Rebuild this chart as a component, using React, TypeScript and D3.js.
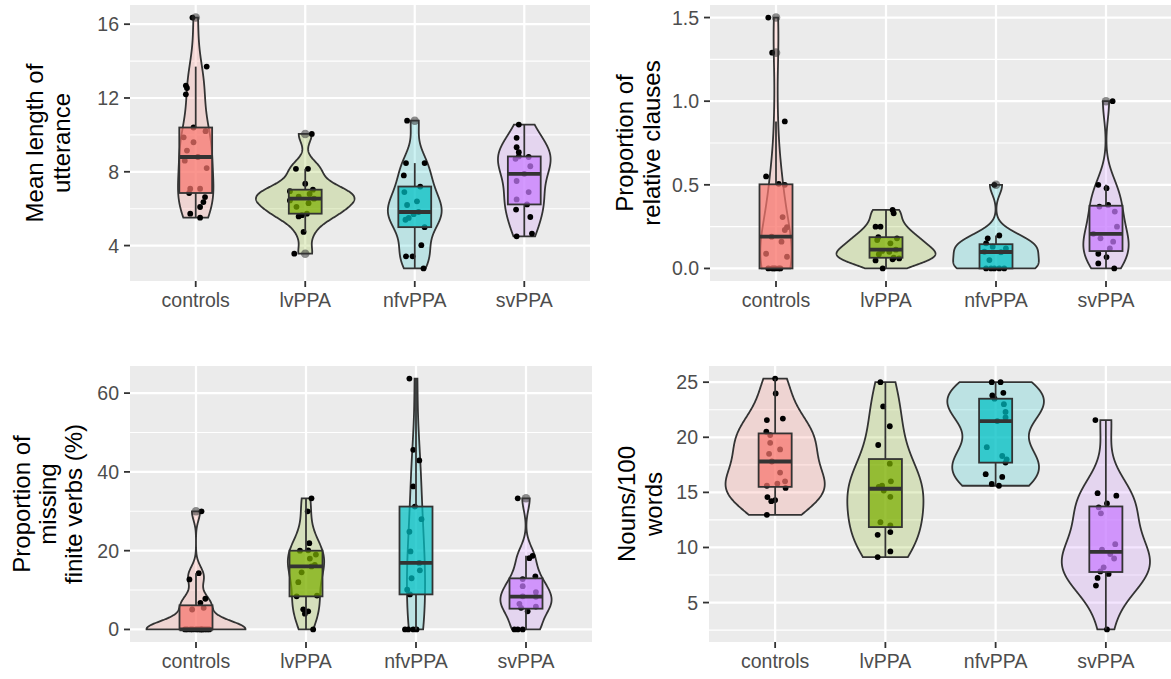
import React from 'react';
import * as d3 from 'd3';

const groups = ['controls', 'lvPPA', 'nfvPPA', 'svPPA'];
const fills = ['#F8766D', '#7CAE00', '#00BFC4', '#C77CFF'];

// each point: [value, horizontal jitter as a fraction of the category step]
const mluControls: [number, number][] = [
  [5.51, 0.04], [5.73, -0.05], [6.09, 0.04], [6.36, 0.07], [6.63, 0.085], [6.85, -0.06], [7.08, -0.05],
  [7.08, 0.04], [8.2, 0.1], [8.6, -0.1], [8.8, 0.02], [9.15, -0.08], [9.6, -0.02], [9.87, -0.11],
  [10.2, 0.09], [10.4, -0.02], [12.2, -0.09], [12.54, -0.08], [12.67, -0.09], [13.7, 0.1], [16.36, -0.03],
];
const mluLv: [number, number][] = [
  [3.56, -0.1], [4.74, -0.015], [5.58, -0.06], [5.65, -0.03], [5.73, 0.015], [6.1, -0.08], [6.3, 0.03],
  [6.45, -0.14], [6.54, 0.08], [6.65, -0.06], [6.8, 0.04], [6.95, -0.14], [7.03, 0.07], [7.35, 0.0],
  [8.16, -0.085], [8.16, 0.025], [10.05, 0.06],
];
const mluNfv: [number, number][] = [
  [2.76, 0.08], [3.42, -0.08], [3.42, -0.02], [4.02, 0.06], [5.0, 0.09], [5.4, -0.085], [5.5, -0.055],
  [5.7, -0.01], [5.82, 0.035], [6.2, -0.07], [6.4, 0.02], [6.9, -0.095], [7.2, 0.05], [7.8, -0.1],
  [8.47, -0.08], [8.47, 0.09], [10.77, -0.07],
];
const mluSv: [number, number][] = [
  [4.5, -0.07], [4.65, 0.07], [5.55, 0.055], [5.95, -0.075], [6.23, 0.025], [6.5, -0.07], [6.9, 0.04],
  [7.5, -0.07], [7.89, 0.0], [8.3, 0.055], [8.7, -0.08], [8.8, 0.04], [8.83, -0.05], [9.06, -0.05],
  [9.33, -0.07], [9.84, -0.07], [10.56, -0.05],
];

const relControls: [number, number][] = [
  [0, -0.07], [0, -0.035], [0, -0.005], [0, 0.025], [0, 0.04], [0, -0.02], [0.07, 0.1], [0.088, -0.09],
  [0.16, 0.05], [0.19, -0.04], [0.23, 0.08], [0.247, 0.1], [0.307, 0.06], [0.5, 0.08], [0.506, 0.025],
  [0.55, -0.09], [0.879, 0.08], [1.29, -0.035], [1.5, -0.07],
];
const relLv: [number, number][] = [
  [0, -0.03], [0.048, -0.095], [0.055, 0.06], [0.06, 0.12], [0.064, 0.07], [0.085, -0.065], [0.1, 0.03],
  [0.105, -0.035], [0.112, 0.09], [0.15, 0.04], [0.17, -0.08], [0.18, 0.1], [0.187, -0.07], [0.25, -0.095],
  [0.25, -0.05], [0.33, 0.07], [0.35, 0.06],
];
const relNfv: [number, number][] = [
  [0, -0.09], [0, -0.045], [0, -0.015], [0, 0.03], [0, 0.075], [0.05, -0.06], [0.097, 0.045], [0.1, -0.105],
  [0.12, 0.09], [0.13, -0.03], [0.15, -0.09], [0.18, -0.075], [0.197, 0.03], [0.5, -0.015],
];
const relSv: [number, number][] = [
  [0, 0.075], [0.03, -0.07], [0.068, 0.005], [0.088, -0.07], [0.12, 0.035], [0.16, 0.065], [0.18, -0.05],
  [0.207, -0.115], [0.25, 0.1], [0.34, 0.08], [0.37, -0.06], [0.38, 0.02], [0.48, 0.005], [0.5, -0.07],
  [1.0, 0.06],
];

const verbControls: [number, number][] = [
  [0, -0.05], [0, -0.03], [0, 0.0], [0, 0.02], [0, 0.05], [0, 0.08], [0, 0.1], [0, 0.12], [0, -0.08],
  [0, -0.1], [0, 0.04], [0, 0.06], [5.06, -0.035], [5.5, 0.07], [6.75, 0.04], [7.8, 0.085], [12.7, -0.06],
  [14.3, 0.025], [30, 0.05],
];
const verbLv: [number, number][] = [
  [0, 0.065], [4.0, -0.01], [4.6, 0.02], [5.1, -0.025], [8.4, -0.085], [8.6, 0.1], [12, -0.07],
  [14.5, -0.04], [16, 0.05], [16.4, 0.08], [18, 0.035], [19, 0.09], [20, -0.055], [20.1, 0.02],
  [21.9, 0.03], [30, 0.015], [33.3, 0.05],
];
const verbNfv: [number, number][] = [
  [0, -0.1], [0, -0.07], [0, -0.025], [0, 0.005], [8.9, -0.055], [10.1, -0.08], [13, -0.04], [15, 0.035],
  [16.9, 0.03], [19.8, -0.05], [24.8, -0.06], [28, 0.05], [31.2, -0.01], [36.3, -0.025], [42.9, 0.03],
  [45.6, -0.025], [63.7, -0.06],
];
const verbSv: [number, number][] = [
  [0, -0.105], [0, -0.075], [0, -0.03], [4.6, 0.015], [5.5, -0.045], [5.8, 0.09], [6.5, -0.06], [8.3, 0.09],
  [8.4, -0.03], [9.5, 0.09], [11, -0.03], [12.8, -0.03], [13.5, 0.085], [18.1, 0.03], [18.7, 0.06],
  [33.3, -0.075],
];

const nounControls: [number, number][] = [
  [12.96, -0.075], [14.2, -0.035], [14.3, 0.0], [14.57, -0.07], [15.4, 0.095], [15.6, -0.075], [15.8, 0.02],
  [16.0, 0.09], [16.8, 0.045], [17.8, -0.03], [18.5, -0.055], [18.9, 0.045], [19.5, -0.045], [20.2, -0.045],
  [20.5, -0.08], [21.56, -0.075], [21.7, 0.07], [23.98, 0.005], [25.33, 0.0],
];
const nounLv: [number, number][] = [
  [9.13, -0.07], [9.64, 0.045], [11.15, -0.07], [11.4, 0.045], [12.0, 0.045], [12.3, -0.045], [14.6, 0.045],
  [15.16, -0.015], [15.5, -0.06], [15.6, -0.03], [16.0, 0.05], [17.6, 0.04], [19.3, -0.065], [21.0, 0.04],
  [22.8, -0.02], [25.0, -0.045],
];
const nounNfv: [number, number][] = [
  [15.6, 0.03], [15.77, -0.035], [16.4, 0.06], [16.65, -0.09], [17.7, 0.09], [18.0, 0.1], [18.3, 0.06],
  [19.1, -0.08], [21.47, 0.015], [21.8, 0.09], [22.3, 0.09], [23.0, 0.075], [23.5, -0.01], [23.8, -0.03],
  [24.03, 0.07], [25, -0.035], [25, 0.045],
];
const nounSv: [number, number][] = [
  [2.56, 0.01], [6.54, -0.09], [7.24, -0.075], [7.6, 0.025], [7.83, -0.05], [8.2, -0.02], [9.0, 0.075],
  [9.4, 0.04], [9.8, -0.035], [10.3, 0.085], [13.1, -0.045], [13.63, -0.065], [14.0, 0.01], [14.7, 0.095],
  [14.93, -0.075], [21.56, -0.095],
];

const mluTicks = [4, 8, 12, 16];
const relTicks = [0, 0.5, 1, 1.5];
const verbTicks = [0, 20, 40, 60];
const nounTicks = [5, 10, 15, 20, 25];

const FONT = '"Liberation Sans", Arial, sans-serif';
const DARK = '#333333';

function bwNrd0(x: number[]) {
  const s = d3.deviation(x) || 0;
  const iqr = (d3.quantile(x, 0.75) as number) - (d3.quantile(x, 0.25) as number);
  let lo = Math.min(s, iqr / 1.34);
  if (!lo) lo = s || Math.abs(x[0]) || 1;
  return 0.9 * lo * Math.pow(x.length, -0.2);
}

function density(x: number[]) {
  const bw = bwNrd0(x);
  const lo = d3.min(x) as number;
  const hi = d3.max(x) as number;
  const n = 512;
  const out: [number, number][] = [];
  for (let i = 0; i < n; i++) {
    const y = lo + ((hi - lo) * i) / (n - 1);
    let s = 0;
    for (const v of x) {
      const z = (y - v) / bw;
      s += Math.exp(-0.5 * z * z);
    }
    out.push([y, s / (x.length * bw * Math.sqrt(2 * Math.PI))]);
  }
  return out;
}

function boxStats(raw: number[]) {
  const x = raw.slice().sort(d3.ascending);
  const q1 = d3.quantile(x, 0.25) as number;
  const med = d3.quantile(x, 0.5) as number;
  const q3 = d3.quantile(x, 0.75) as number;
  const iqr = q3 - q1;
  const inside = x.filter((v) => v >= q1 - 1.5 * iqr && v <= q3 + 1.5 * iqr);
  return {
    q1, med, q3,
    lo: d3.min(inside) as number,
    hi: d3.max(inside) as number,
    out: x.filter((v) => v < q1 - 1.5 * iqr || v > q3 + 1.5 * iqr),
  };
}

type PanelProps = {
  data: [number, number][][];
  ticks: number[];
  title: string[];
  titleX: number[];
  x0: number; x1: number; y0: number; y1: number;
};

const Panel: React.FC<PanelProps> = ({ data, ticks, title, titleX, x0, x1, y0, y1 }) => {
  const all = data.flat().map((d) => d[0]);
  const [mn, mx] = d3.extent(all) as [number, number];
  const pad = (mx - mn) * 0.05;
  const y = d3.scaleLinear().domain([mn - pad, mx + pad]).range([y1, y0]);
  const x = d3.scalePoint<string>().domain(groups).range([x0, x1]).padding(0.6);
  const step = x.step();

  const tstep = ticks[1] - ticks[0];
  const minor = [ticks[0] - tstep / 2, ...ticks.map((t) => t + tstep / 2)].filter(
    (t) => t > y.domain()[0] && t < y.domain()[1]
  );

  const dens = data.map((g) => density(g.map((d) => d[0])));
  const maxD = d3.max(dens.flat(), (d) => d[1]) as number;
  const stats = data.map((g) => boxStats(g.map((d) => d[0])));
  const boxW = step * 0.3;

  const violin = (i: number) => {
    const cx = x(groups[i]) as number;
    const area = d3
      .area<[number, number]>()
      .y((d) => y(d[0]))
      .x0((d) => cx - (0.45 * step * d[1]) / maxD)
      .x1((d) => cx + (0.45 * step * d[1]) / maxD);
    return area(dens[i]) || '';
  };

  const cy = (y0 + y1) / 2;

  return (
    <g>
      <rect x={x0} y={y0} width={x1 - x0} height={y1 - y0} fill="#EBEBEB" />
      {minor.map((t) => (
        <line key={'m' + t} x1={x0} x2={x1} y1={y(t)} y2={y(t)} stroke="#fff" strokeWidth={1.1} />
      ))}
      {ticks.map((t) => (
        <line key={'M' + t} x1={x0} x2={x1} y1={y(t)} y2={y(t)} stroke="#fff" strokeWidth={2.2} />
      ))}
      {groups.map((g) => (
        <line key={'v' + g} x1={x(g)} x2={x(g)} y1={y0} y2={y1} stroke="#fff" strokeWidth={2.2} />
      ))}

      {/* violins */}
      {groups.map((g, i) => (
        <path key={'vio' + g} d={violin(i)} fill={fills[i]} fillOpacity={0.2} stroke={DARK} strokeWidth={1.8} />
      ))}

      {/* jittered points */}
      {data.map((pts, i) =>
        pts.map((p, k) => (
          <circle key={`p${i}-${k}`} cx={(x(groups[i]) as number) + p[1] * step} cy={y(p[0])} r={2.9} fill="#000" />
        ))
      )}

      {/* boxplots */}
      {stats.map((s, i) => {
        const cx = x(groups[i]) as number;
        return (
          <g key={'box' + i}>
            <line x1={cx} x2={cx} y1={y(s.q3)} y2={y(s.hi)} stroke={DARK} strokeWidth={1.8} />
            <line x1={cx} x2={cx} y1={y(s.q1)} y2={y(s.lo)} stroke={DARK} strokeWidth={1.8} />
            <rect
              x={cx - boxW / 2}
              y={y(s.q3)}
              width={boxW}
              height={Math.max(0, y(s.q1) - y(s.q3))}
              fill={fills[i]}
              fillOpacity={0.72}
              stroke={DARK}
              strokeWidth={1.8}
            />
            <line x1={cx - boxW / 2} x2={cx + boxW / 2} y1={y(s.med)} y2={y(s.med)} stroke={DARK} strokeWidth={3.8} />
            {s.out.map((v, k) => (
              <circle key={k} cx={cx} cy={y(v)} r={4.3} fill="#333" fillOpacity={0.55} />
            ))}
          </g>
        );
      })}

      {/* y axis */}
      {ticks.map((t) => (
        <g key={'yt' + t}>
          <line x1={x0 - 6} x2={x0} y1={y(t)} y2={y(t)} stroke={DARK} strokeWidth={1.8} />
          <text x={x0 - 11} y={y(t)} dy="0.36em" textAnchor="end" fontSize={19.5} fill="#4D4D4D" fontFamily={FONT}>
            {d3.format('')(t) === '1' && tstep === 0.5 ? '1.0' : tstep === 0.5 ? t.toFixed(1) : String(t)}
          </text>
        </g>
      ))}

      {/* x axis */}
      {groups.map((g) => (
        <g key={'xt' + g}>
          <line x1={x(g)} x2={x(g)} y1={y1} y2={y1 + 6} stroke={DARK} strokeWidth={1.8} />
          <text x={x(g)} y={y1 + 26} textAnchor="middle" fontSize={19.5} fill="#4D4D4D" fontFamily={FONT}>
            {g}
          </text>
        </g>
      ))}

      {title.map((line, i) => (
        <text
          key={'ti' + i}
          transform={`translate(${titleX[i]},${cy}) rotate(-90)`}
          textAnchor="middle"
          fontSize={24}
          fill="#000"
          fontFamily={FONT}
        >
          {line}
        </text>
      ))}
    </g>
  );
};

export default function App() {
  return (
    <svg
      width={1171}
      height={679}
      viewBox="0 0 1171 679"
      style={{ position: 'absolute', left: 0, top: 0, display: 'block', background: '#fff' }}
    >
      <Panel
        data={[mluControls, mluLv, mluNfv, mluSv]}
        ticks={mluTicks}
        title={['Mean length of', 'utterance']}
        titleX={[43, 70]}
        x0={130} x1={590} y0={5} y1={281}
      />
      <Panel
        data={[relControls, relLv, relNfv, relSv]}
        ticks={relTicks}
        title={['Proportion of', 'relative clauses']}
        titleX={[633, 660]}
        x0={710} x1={1172} y0={5} y1={281}
      />
      <Panel
        data={[verbControls, verbLv, verbNfv, verbSv]}
        ticks={verbTicks}
        title={['Proportion of', 'missing', 'finite verbs (%)']}
        titleX={[30, 56, 82]}
        x0={130} x1={592} y0={366} y1={642}
      />
      <Panel
        data={[nounControls, nounLv, nounNfv, nounSv]}
        ticks={nounTicks}
        title={['Nouns/100', 'words']}
        titleX={[635, 662]}
        x0={709} x1={1172} y0={366} y1={642}
      />
    </svg>
  );
}
